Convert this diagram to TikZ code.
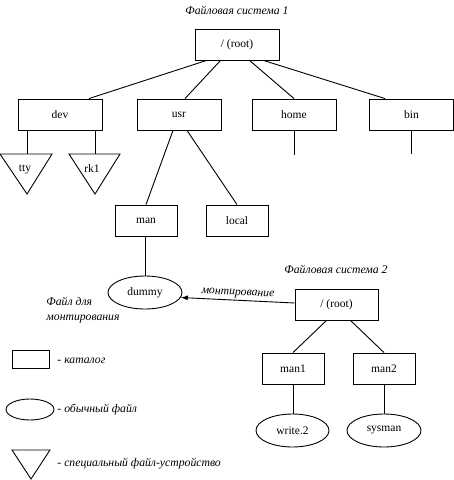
\documentclass[tikz,border=0pt]{standalone}
\usepackage{fontspec}
\setmainfont{Liberation Serif}
\usetikzlibrary{shapes.geometric,arrows.meta}

\begin{document}
\begin{tikzpicture}[x=1pt, y=-1pt, line width=0.9pt,
    dir/.style={draw, rectangle, minimum width=84pt, minimum height=31pt, inner sep=0pt, font=\fontsize{11.5}{13}\selectfont},
    smalldir/.style={dir, minimum width=62pt},
    file/.style={draw, ellipse, minimum width=74pt, minimum height=33pt, inner sep=0pt, font=\fontsize{11.5}{13}\selectfont},
    devname/.style={inner sep=0pt, font=\fontsize{11.5}{13}\selectfont},
    note/.style={inner sep=0pt, font=\itshape\fontsize{11.7}{15}\selectfont}]
    \useasboundingbox (0,0) rectangle (454,480);

    % File system 1
    \node[note] (title1) at (237,10) {Файловая система 1};
    \node[dir] (root) at (237,44.5) {/ (root)};
    \node[dir] (dev) at (60,114.5) {dev};
    \node[dir] (usr) at (179,114.5) {usr};
    \node[dir] (home) at (294,114.5) {home};
    \node[dir] (bin) at (411.5,114.5) {bin};
    \draw ([xshift=12pt]root.south west) -- ([xshift=29pt]dev.north);
    \draw ([xshift=26pt]root.south west) -- ([xshift=6pt]usr.north);
    \draw ([xshift=55pt]root.south west) -- (home.north);
    \draw ([xshift=69pt]root.south west) -- ([xshift=-26.5pt]bin.north);

    % Devices under dev
    \coordinate (ttytop) at (27,154);
    \coordinate (rktop) at (95,154);
    \draw (dev.south -| ttytop) -- (ttytop);
    \draw (dev.south -| rktop) -- (rktop);
    \draw (0,154) -- (52,154) -- (27,194) -- cycle;
    \draw (69,154) -- (120,154) -- (95,194) -- cycle;
    \node[devname] (tty) at (25,169) {tty};
    \node[devname] (rk) at (92,169) {rk1};

    % Open ends under home and bin
    \coordinate (homeend) at (294,155);
    \coordinate (binend) at (411.5,154);
    \draw (home.south) -- (homeend);
    \draw (bin.south) -- (binend);

    % usr subtree
    \node[smalldir] (man) at (146,220.5) {man};
    \node[smalldir] (local) at (237,220.5) {local};
    \draw ([xshift=-6pt]usr.south) -- (man.north);
    \draw ([xshift=8pt]usr.south) -- (local.north);
    \node[file] (dummy) at (145,292.5) {dummy};
    \draw (man.south -| dummy) -- (dummy.north);
    \node[note, anchor=west, align=left] (mountnote) at (46,310) {Файл для\\монтирования};

    % File system 2
    \node[note] (title2) at (336,269) {Файловая система 2};
    \node[dir, minimum width=83pt] (root2) at (336.5,304.5) {/ (root)};
    \draw[{Latex[length=7pt,width=5pt]}-] (dummy.-8) -- node[note, sloped, above=2pt] {монтирование} ([yshift=1.5pt]root2.west);
    \node[smalldir] (man1) at (293,368.5) {man1};
    \node[smalldir] (man2) at (384,368.5) {man2};
    \draw ([xshift=-10pt]root2.south) -- (man1.north);
    \draw ([xshift=14pt]root2.south) -- (man2.north);
    \node[file, minimum width=73pt] (write) at (292.5,430.5) {write.2};
    \node[file] (sysman) at (384,430.5) {sysman};
    \draw (man1.south) -- (man1.south |- write.north);
    \draw (man2.south) -- (sysman.north);

    % Legend
    \node[draw, minimum width=37pt, minimum height=18pt, inner sep=0pt] (legdir) at (30.5,359) {};
    \node[note, anchor=west] (legdirtext) at (57,361) {- каталог};
    \node[draw, ellipse, minimum width=48pt, minimum height=21pt, inner sep=0pt] (legfile) at (30,409.5) {};
    \node[note, anchor=west] (legfiletext) at (57,410) {- обычный файл};
    \draw (12,450) -- (50,450) -- (31,479) -- cycle;
    \node[note, anchor=west] (legdevtext) at (57,464) {- специальный файл-устройство};
\end{tikzpicture}
\end{document}
